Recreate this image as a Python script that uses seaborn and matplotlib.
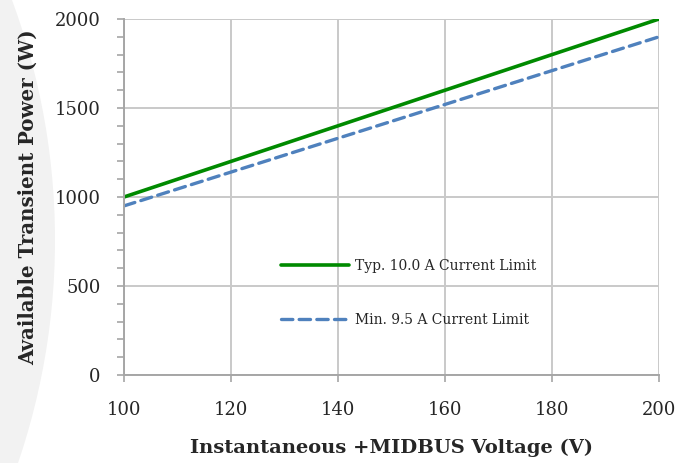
import numpy as np
import pandas as pd
import seaborn as sns
import matplotlib.pyplot as plt
from matplotlib.patches import Circle
from matplotlib.ticker import MultipleLocator

# datos
voltage = [100, 200]
typ_power = [1000, 2000]
min_power = [950, 1900]
labels = ["Typ. 10.0 A Current Limit", "Min. 9.5 A Current Limit"]

sns.set_theme(style="white")
plt.rcParams["font.family"] = ["DejaVu Serif"]

fig = plt.figure(figsize=(6.95, 4.63), dpi=100)

# circulo gris decorativo a la izquierda
fig.patches.append(Circle((-636, 463 - 240), 691, transform=None,
                          facecolor="#f2f2f2", edgecolor="none", zorder=-5))

ax = fig.add_axes([124 / 695, 1 - 375 / 463, (659 - 124) / 695, (375 - 19) / 463])
ax.patch.set_alpha(0)

sns.lineplot(x=voltage, y=typ_power, ax=ax, color="#008a00", linewidth=2.6,
             label=labels[0])
sns.lineplot(x=voltage, y=min_power, ax=ax, color="#4f81bd", linewidth=2.4,
             label=labels[1], dashes=(3.4, 1.9))
for ln in ax.lines[1:]:
    ln.set_dash_capstyle("round")

ax.set_xlim(100, 200)
ax.set_ylim(0, 2000)
ax.set_xticks([100, 120, 140, 160, 180, 200])
ax.set_yticks([0, 500, 1000, 1500, 2000])
ax.yaxis.set_minor_locator(MultipleLocator(100))

grid_c = "#c9c9c9"
ax.grid(True, color=grid_c, linewidth=1.4)
for s in ["top", "right"]:
    ax.spines[s].set_visible(False)
for s in ["left", "bottom"]:
    ax.spines[s].set_color("#a6a6a6")
    ax.spines[s].set_linewidth(1.4)

ax.tick_params(axis="both", which="both", direction="out", color="#a6a6a6",
               width=1.2, length=5, labelsize=13, labelcolor="#262626")
ax.tick_params(axis="y", which="both", left=True, pad=12)
ax.tick_params(axis="x", bottom=True, pad=14)

ax.set_xlabel("Instantaneous +MIDBUS Voltage (V)", fontsize=14,
              fontweight="bold", color="#262626", labelpad=14)
ax.set_ylabel("Available Transient Power (W)", fontsize=14.2,
              fontweight="bold", color="#262626", labelpad=12)

leg = ax.legend(loc="upper left", bbox_to_anchor=(0.27, 0.36), frameon=False,
                fontsize=10, handlelength=4.9, labelspacing=2.85,
                handletextpad=0.45, labelcolor="#262626")

fig.savefig("out.png", dpi=100)
